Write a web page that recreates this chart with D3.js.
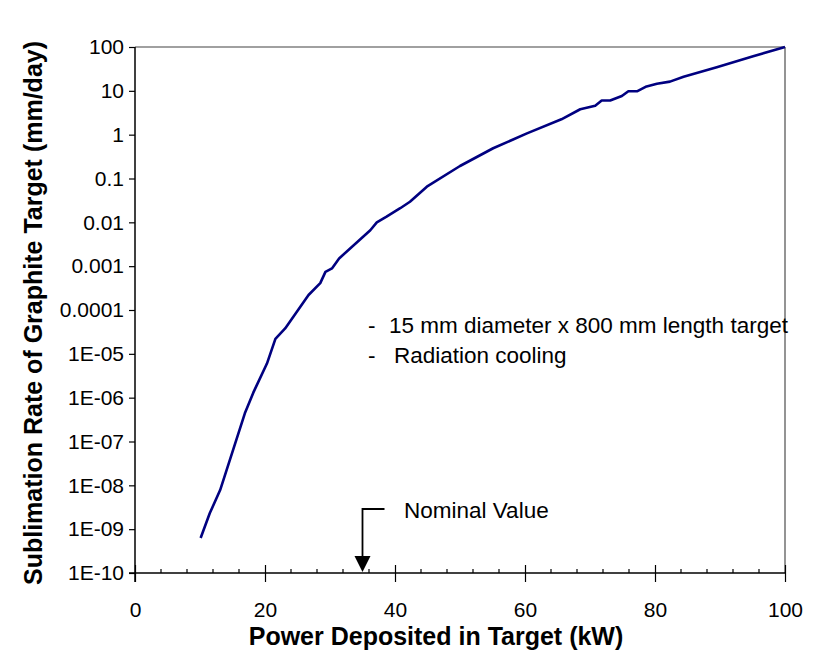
<!DOCTYPE html>
<html lang="en">
<head>
    <script src="https://d3js.org/d3.v7.min.js"></script>
    <style>
        body { margin: 0; background: white; }
        text { font-family: "Liberation Sans", Arial, sans-serif; fill: black; }
    </style>
</head>
<body>
    <svg id="chart" width="822" height="666"></svg>

    <script>
    // power deposited (kW) and sublimation rate (mm/day)
    const power = [10.1, 11.5, 13.1, 16.9, 18.2, 20.3, 21.6, 23.1, 24.9, 26.7, 28.5, 29.3, 30.3, 31.4,
                   36.2, 37.2, 38.7, 40.8, 42.3, 44.9, 50.0, 55.1, 60.3, 65.6, 68.5, 70.8, 71.8, 73.1,
                   74.9, 75.9, 77.3, 78.7, 80.3, 82.3, 84.4, 89.5, 95.1, 100];
    const rate = [6.3e-10, 2.3e-9, 7.8e-9, 4.4e-7, 1.3e-6, 6.0e-6, 2.2e-5, 3.8e-5, 9.1e-5, 2.2e-4, 4.1e-4, 7.4e-4, 8.9e-4, 1.5e-3,
                  6.6e-3, 1.0e-2, 1.35e-2, 2.1e-2, 2.95e-2, 6.5e-2, 0.193, 0.49, 1.07, 2.24, 3.8, 4.57, 6.0, 6.0,
                  7.6, 9.8, 9.8, 12.6, 14.5, 16.2, 20.9, 34.7, 61.7, 100];

    const xTicks = [0, 20, 40, 60, 80, 100];
    const xMinor = [4, 8, 12, 16, 24, 28, 32, 36, 44, 48, 52, 56, 64, 68, 72, 76, 84, 88, 92, 96];
    const yTicks = [100, 10, 1, 0.1, 0.01, 0.001, 0.0001, 1e-5, 1e-6, 1e-7, 1e-8, 1e-9, 1e-10];
    const yLabels = ["100", "10", "1", "0.1", "0.01", "0.001", "0.0001", "1E-05", "1E-06", "1E-07", "1E-08", "1E-09", "1E-10"];

    const nominal = 35;
    const notes = ["15 mm diameter x 800 mm length target", "Radiation cooling"];

    const svg = d3.select("#chart");
    const margin = {top: 47, right: 37, bottom: 93, left: 135};
    const width = 822, height = 666;

    const x = d3.scaleLinear().domain([0, 100]).range([margin.left, width - margin.right]);
    const y = d3.scaleLog().domain([1e-10, 100]).range([height - margin.bottom, margin.top]);

    // frame: gray top / right
    svg.append("line")
        .attr("x1", x(0)).attr("x2", x(100)).attr("y1", y(100)).attr("y2", y(100))
        .attr("stroke", "#808080").attr("stroke-width", 1.5);
    svg.append("line")
        .attr("x1", x(100)).attr("x2", x(100)).attr("y1", y(100)).attr("y2", y(1e-10))
        .attr("stroke", "#707070").attr("stroke-width", 1.5);

    // y axis
    const gy = svg.append("g")
        .attr("transform", `translate(${x(0)},0)`)
        .call(d3.axisLeft(y).tickValues(yTicks).tickSize(6).tickFormat((d, i) => yLabels[i]));
    gy.select(".domain").attr("stroke", "black").attr("stroke-width", 1.5).attr("d", `M0,${y(100)}V${y(1e-10) + 9}`);
    gy.selectAll(".tick line").attr("stroke", "black").attr("stroke-width", 1.2);
    gy.selectAll(".tick text")
        .attr("x", -11)
        .style("font-size", "21px")
        .style("font-family", "Liberation Sans, Arial, sans-serif");

    // x axis, major ticks cross the line
    const gx = svg.append("g")
        .attr("transform", `translate(0,${y(1e-10)})`)
        .call(d3.axisBottom(x).tickValues(xTicks).tickSize(9));
    gx.select(".domain").attr("stroke", "black").attr("stroke-width", 1.5).attr("d", `M${x(0) - 6},0H${x(100)}`);
    gx.selectAll(".tick line").attr("y1", -8).attr("stroke", "black").attr("stroke-width", 1.2);
    gx.selectAll(".tick text")
        .attr("y", 44)
        .attr("dy", 0)
        .style("font-size", "21px")
        .style("font-family", "Liberation Sans, Arial, sans-serif");

    // minor x ticks, inside only
    svg.append("g").selectAll("line")
        .data(xMinor)
        .join("line")
        .attr("x1", d => x(d)).attr("x2", d => x(d))
        .attr("y1", y(1e-10)).attr("y2", y(1e-10) - 4)
        .attr("stroke", "black").attr("stroke-width", 1.2);

    // curve
    const pts = power.map((p, i) => [p, rate[i]]);
    svg.append("path")
        .datum(pts)
        .attr("fill", "none")
        .attr("stroke", "#000080")
        .attr("stroke-width", 2.6)
        .attr("stroke-linejoin", "round")
        .attr("d", d3.line().x(d => x(d[0])).y(d => y(d[1])));

    // notes
    notes.forEach(function(t, i) {
        svg.append("text")
            .attr("x", 368).attr("y", 333 + i * 30)
            .style("font-size", "22.5px")
            .text("-");
        svg.append("text")
            .attr("x", i === 0 ? 389 : 394).attr("y", 333 + i * 30)
            .style("font-size", "22.5px")
            .text(t);
    });

    // nominal value arrow
    const nx = x(nominal);
    svg.append("path")
        .attr("d", `M${nx + 22},509H${nx}V558`)
        .attr("fill", "none").attr("stroke", "black").attr("stroke-width", 1.8);
    svg.append("path")
        .attr("d", `M${nx - 8},556L${nx + 8},556L${nx},${y(1e-10) - 1}Z`)
        .attr("fill", "black");
    svg.append("text")
        .attr("x", 404).attr("y", 518)
        .style("font-size", "22.5px")
        .text("Nominal Value");

    // axis titles
    svg.append("text")
        .attr("x", 436).attr("y", 645)
        .attr("text-anchor", "middle")
        .style("font-size", "25px").style("font-weight", "bold")
        .text("Power Deposited in Target (kW)");

    svg.append("text")
        .attr("transform", "translate(42,313) rotate(-90)")
        .attr("text-anchor", "middle")
        .style("font-size", "25px").style("font-weight", "bold")
        .text("Sublimation Rate of Graphite Target (mm/day)");
    </script>
</body>
</html>
